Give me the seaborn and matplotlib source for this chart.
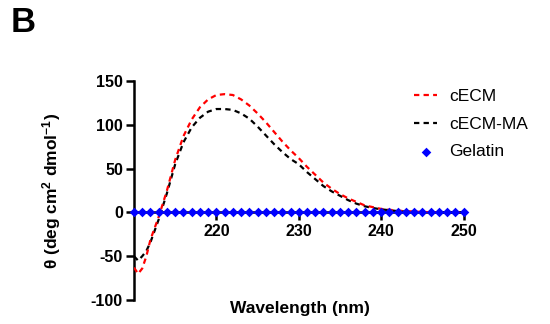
import numpy as np
import pandas as pd
import matplotlib
matplotlib.use("Agg")
import matplotlib.pyplot as plt
import seaborn as sns

# ---- data ----
wl_curve = [210, 210.5, 211, 211.5, 212, 213, 214, 215, 216, 217, 218, 219, 220,
            221, 222, 223, 224, 225, 226, 227, 228, 229, 230, 231, 232, 233, 234,
            235, 236, 237, 238, 239, 240, 241, 242, 243, 244, 245, 246, 247, 248,
            249, 250]
cecm = [-63, -70, -64, -50, -31, -5, 25, 60, 87, 106, 120, 129, 134,
        135, 134, 129, 122, 113, 103, 92, 81, 71, 62, 52, 43, 34, 27,
        21, 16, 12, 8, 6, 4, 3, 2, 1.5, 1, 0.5, 0.3, 0.1, 0, 0, 0]
cecm_ma = [-50, -55, -50, -44, -34, -8, 22, 55, 80, 97, 108, 115, 118,
           118, 117, 113, 107, 98, 88, 78, 69, 61, 55, 46, 38, 30, 24,
           19, 14, 10, 7, 5, 3.5, 2.5, 1.5, 1, 0.5, 0.2, 0, 0, 0, 0, 0]
wl_gel = list(range(210, 251))
gelatin = [0] * len(wl_gel)

series_names = ["cECM", "cECM-MA", "Gelatin"]
x_ticks = [220, 230, 240, 250]
y_ticks = [-100, -50, 0, 50, 100, 150]

# ---- style ----
sns.set_style("ticks")
plt.rcParams["font.family"] = ["Liberation Sans", "DejaVu Sans"]
plt.rcParams["mathtext.fontset"] = "custom"
plt.rcParams["mathtext.rm"] = "Liberation Sans:bold"
plt.rcParams["mathtext.bf"] = "Liberation Sans:bold"
plt.rcParams["mathtext.default"] = "bf"
plt.rcParams["axes.unicode_minus"] = False
plt.rcParams["text.color"] = "black"
plt.rcParams["xtick.color"] = "black"
plt.rcParams["ytick.color"] = "black"
plt.rcParams["xtick.labelcolor"] = "black"
plt.rcParams["ytick.labelcolor"] = "black"

fig = plt.figure(figsize=(5.5, 3.24), dpi=100)
ax = fig.add_axes([134 / 550, 1 - 300 / 324, 329.5 / 550, 219 / 324])

df_curves = pd.DataFrame({
    "wl": wl_curve * 2,
    "theta": cecm + cecm_ma,
    "sample": [series_names[0]] * len(wl_curve) + [series_names[1]] * len(wl_curve),
})
df_gel = pd.DataFrame({"wl": wl_gel, "theta": gelatin, "sample": series_names[2]})

sns.lineplot(data=df_curves[df_curves["sample"] == "cECM-MA"], x="wl", y="theta",
             color="black", lw=1.6, ax=ax, label="cECM-MA", zorder=3)
sns.lineplot(data=df_curves[df_curves["sample"] == "cECM"], x="wl", y="theta",
             color="#ff0000", lw=1.6, ax=ax, label="cECM", zorder=4)
for ln in ax.lines:
    ln.set_dashes((2.4, 1.9))
sns.scatterplot(data=df_gel, x="wl", y="theta", color="#0000ff", marker="D",
                s=24, edgecolor="#0000ff", linewidth=0, ax=ax, label="Gelatin",
                zorder=5, clip_on=False)

ax.set_xlim(210, 250)
ax.set_ylim(-100, 150)
ax.set_xticks(x_ticks)
ax.set_yticks(y_ticks)
ax.spines["bottom"].set_position(("data", 0))
ax.spines["top"].set_visible(False)
ax.spines["right"].set_visible(False)
for sp in ("left", "bottom"):
    ax.spines[sp].set_linewidth(1.8)
    ax.spines[sp].set_color("black")
ax.tick_params(axis="both", direction="out", length=6, width=1.8, color="black",
               labelcolor="black", labelsize=11.5, pad=2)
for lab in ax.get_xticklabels() + ax.get_yticklabels():
    lab.set_fontweight("bold")

ax.set_xlabel("")
ax.set_ylabel("")
fig.text(299.5 / 550, 1 - 309 / 324, "Wavelength (nm)", ha="center", va="center",
         fontsize=12.5, fontweight="bold", color="black")
fig.text(52 / 550, 1 - 191 / 324, r"θ (deg cm$^{2}$ dmol$^{-1}$)", ha="center",
         va="center", rotation=90, fontsize=12.5, fontweight="bold", color="black")
fig.text(11 / 550, 1 - 22 / 324, "B", ha="left", va="center", fontsize=25,
         fontweight="bold", color="black")

# legend: order cECM, cECM-MA, Gelatin
handles, labels = ax.get_legend_handles_labels()
order = [labels.index(n) for n in series_names]
leg = ax.legend([handles[i] for i in order], [labels[i] for i in order],
                loc="upper left", bbox_to_anchor=(414 / 550, 1 - 89 / 324),
                bbox_transform=fig.transFigure, frameon=False, fontsize=12.5,
                borderpad=0, borderaxespad=0,
                handlelength=1.35, handletextpad=0.7, labelspacing=0.72)
for t in leg.get_texts():
    t.set_color("black")

fig.savefig("out.png", dpi=100)
